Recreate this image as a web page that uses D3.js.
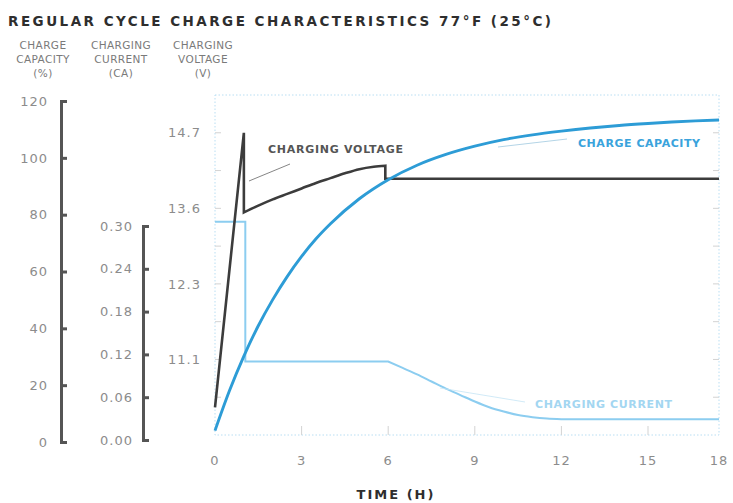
<!DOCTYPE html>
<html><head><meta charset="utf-8">
<script src="https://cdn.jsdelivr.net/npm/d3@7"></script>
<style>body{margin:0;background:#fff} text{font-family:"DejaVu Sans",sans-serif}</style>
</head><body><svg id="c" width="733" height="503"></svg>
<script>
const timeTicks=[0,3,6,9,12,15,18];
const capacityTicks=[0,20,40,60,80,100,120];
const currentTicks=[0,0.06,0.12,0.18,0.24,0.30];
const voltageTicks=[11.1,12.3,13.6,14.7];

const capacityTime=[0,0.5,1,1.5,2,2.5,3,3.5,4,5,6,7,8,9,10,11,12,13,14,15,16,17,18];
const capacityValues=[4,18,30.2,40.9,50.1,58.2,65.3,71.5,76.8,85.6,92.3,97.4,101.2,104.1,106.4,108.1,109.4,110.5,111.4,112.1,112.6,113,113.3];

const voltageTime=[0,1,1,1.5,2,2.5,3,3.5,4,4.5,5,5.5,5.9,5.9,18];
const voltageValues=[10.34,14.7,13.53,13.64,13.73,13.81,13.89,13.97,14.04,14.11,14.17,14.205,14.22,14.03,14.03];

const currentTime=[0,1.05,1.05,6,6.5,7,7.5,8,8.5,9,9.5,10,10.5,11,11.5,12,18];
const currentValues=[0.306,0.306,0.110,0.110,0.101,0.092,0.082,0.072,0.063,0.054,0.046,0.040,0.035,0.032,0.030,0.029,0.029];

(function(){
const svg=d3.select("#c");
svg.append("rect").attr("width",733).attr("height",503).attr("fill","#fff");
const pTop=95,pBottom=435,pLeft=215,pRight=719;
const x=d3.scaleLinear().domain([0,15,18]).range([215,648,719]);
const grid=d3.scaleLinear().domain([0,9]).range([pBottom,pTop]);
const yV=d3.scaleLinear().domain(voltageTicks).range([grid(2),grid(4),grid(6),grid(8)]);
const yCap=d3.scaleLinear().domain([0,120]).range([442,101]);
const yCur=d3.scaleLinear().domain([0,0.30]).range([440,226]);

// title
svg.append("text").attr("x",8).attr("y",26).attr("font-size",13.5).attr("font-weight","bold")
  .attr("fill","#2e2e2e").attr("textLength",543).attr("lengthAdjust","spacing")
  .text("REGULAR CYCLE CHARGE CHARACTERISTICS 77°F (25°C)");

// headers
const headers=[{cx:43,lines:["CHARGE","CAPACITY","(%)"]},{cx:121,lines:["CHARGING","CURRENT","(CA)"]},{cx:203,lines:["CHARGING","VOLTAGE","(V)"]}];
headers.forEach(h=>{h.lines.forEach((l,i)=>{
  svg.append("text").attr("x",h.cx).attr("y",49+i*14).attr("text-anchor","middle")
   .attr("font-size",10.5).attr("fill","#7a7a7a").attr("letter-spacing",0.4).text(l);
});});

// plot border
svg.append("rect").attr("x",pLeft).attr("y",pTop).attr("width",pRight-pLeft).attr("height",pBottom-pTop)
  .attr("fill","none").attr("stroke","#b9def3").attr("stroke-width",1).attr("stroke-dasharray","1.5,2");

// inner ticks
const g=svg.append("g").attr("stroke","#d3d3d3").attr("stroke-width",1);
d3.range(1,9).forEach(k=>{
  g.append("line").attr("x1",pLeft).attr("x2",pLeft+6).attr("y1",grid(k)).attr("y2",grid(k));
  g.append("line").attr("x1",pRight-6).attr("x2",pRight).attr("y1",grid(k)).attr("y2",grid(k));
});
timeTicks.slice(1,-1).forEach(t=>{
  g.append("line").attr("x1",x(t)).attr("x2",x(t)).attr("y1",pBottom-9).attr("y2",pBottom);
});

// voltage labels
voltageTicks.forEach(v=>{
  svg.append("text").attr("x",201).attr("y",yV(v)).attr("dy","0.36em").attr("text-anchor","end")
   .attr("font-size",13).attr("fill","#8c8c8c").attr("letter-spacing",1).text(d3.format(".1f")(v));
});

// x labels
timeTicks.forEach(t=>{
  svg.append("text").attr("x",x(t)).attr("y",465).attr("text-anchor","middle")
   .attr("font-size",13).attr("fill","#8c8c8c").attr("letter-spacing",1).text(t);
});
svg.append("text").attr("x",396).attr("y",499).attr("text-anchor","middle").attr("font-size",13)
  .attr("font-weight","bold").attr("fill","#2e2e2e").attr("letter-spacing",2).text("TIME (H)");

// left axes
function styleAxis(sel,pad){
  sel.select(".domain").attr("stroke","#555").attr("stroke-width",3);
  sel.selectAll(".tick line").attr("stroke","#555").attr("stroke-width",3);
  sel.selectAll(".tick text").attr("x",-pad).attr("text-anchor","end").attr("font-size",13)
    .attr("fill","#8c8c8c").attr("letter-spacing",1).attr("font-family","DejaVu Sans");
}
const capAxis=svg.append("g").attr("transform","translate(61,0)")
  .call(d3.axisRight(yCap).tickValues(capacityTicks).tickSize(6).tickFormat(d3.format("d")));
styleAxis(capAxis,13);
const curAxis=svg.append("g").attr("transform","translate(143,0)")
  .call(d3.axisRight(yCur).tickValues(currentTicks).tickSize(6).tickFormat(d3.format(".2f")));
styleAxis(curAxis,10);

// piecewise smooth path: split at vertical jumps and at given corner times
function seriesPath(times,values,yS,corners){
  const segs=[];let cur=[];
  times.forEach((t,i)=>{
    const p=[x(t),yS(values[i])];
    if(i>0 && t===times[i-1]){segs.push(cur);cur=[p];}
    else if(corners.includes(t) && cur.length){cur.push(p);segs.push(cur);cur=[p];}
    else cur.push(p);
  });
  segs.push(cur);
  const ln=d3.line().curve(d3.curveMonotoneX);
  return segs.filter(s=>s.length).map((s,i)=>{
    let d=s.length>1?ln(s):"M"+s[0][0]+","+s[0][1];
    return i===0?d:"L"+d.slice(1);
  }).join("");
}

svg.append("path").attr("d",seriesPath(currentTime,currentValues,yCur,[6,12]))
  .attr("fill","none").attr("stroke","#8ccdf0").attr("stroke-width",2);
svg.append("path").attr("d",seriesPath(voltageTime,voltageValues,yV,[]))
  .attr("fill","none").attr("stroke","#3c3c3c").attr("stroke-width",2.6).attr("stroke-linejoin","miter");
svg.append("path").attr("d",seriesPath(capacityTime,capacityValues,yCap,[]))
  .attr("fill","none").attr("stroke","#2d9cd6").attr("stroke-width",2.9);

// annotations
svg.append("line").attr("x1",249).attr("y1",181).attr("x2",290).attr("y2",164).attr("stroke","#666").attr("stroke-width",0.8);
svg.append("text").attr("x",268).attr("y",153).attr("font-size",11).attr("font-weight","bold").attr("fill","#555")
  .attr("textLength",135).attr("lengthAdjust","spacing").text("CHARGING VOLTAGE");
svg.append("line").attr("x1",498).attr("y1",147).attr("x2",567).attr("y2",139).attr("stroke","#9fc9df").attr("stroke-width",0.8);
svg.append("text").attr("x",578).attr("y",147).attr("font-size",11).attr("font-weight","bold").attr("fill","#3aa3dc")
  .attr("textLength",122).attr("lengthAdjust","spacing").text("CHARGE CAPACITY");
svg.append("line").attr("x1",440).attr("y1",388).attr("x2",525).attr("y2",402).attr("stroke","#c5e4f5").attr("stroke-width",0.8);
svg.append("text").attr("x",535).attr("y",408).attr("font-size",11).attr("font-weight","bold").attr("fill","#a3d6f1")
  .attr("textLength",137).attr("lengthAdjust","spacing").text("CHARGING CURRENT");
})();
</script></body></html>
